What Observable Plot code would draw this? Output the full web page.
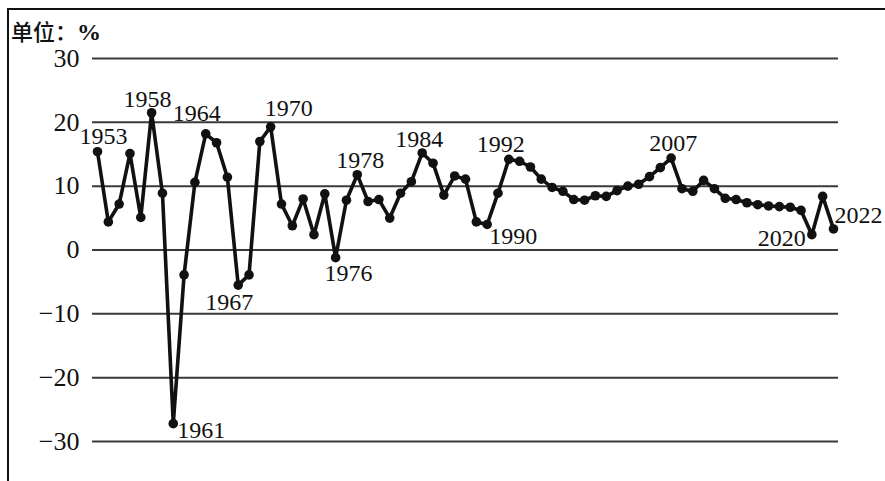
<!DOCTYPE html>
<html>
<head>
<meta charset="utf-8">
<script src="https://cdn.jsdelivr.net/npm/d3@7"></script>
<script src="https://cdn.jsdelivr.net/npm/@observablehq/plot@0.6"></script>
<style>
  html, body { margin: 0; padding: 0; background: #fff; }
  #wrap { position: relative; width: 885px; height: 481px; overflow: hidden; background: #fff; }
  #frame { position: absolute; left: 7px; top: 8px; width: 880px; height: 480px;
           border-left: 2px solid #111; border-top: 2px solid #111; box-sizing: border-box; }
  #unit { position: absolute; left: 11px; top: 20px; font-family: "Noto Sans CJK SC", sans-serif;
          font-size: 22px; line-height: 20px; font-weight: 500; color: #111; white-space: nowrap; }
  #unit .pct { font-family: "Liberation Serif", serif; font-weight: 700; font-size: 24px; }
  #chart { position: absolute; left: 0; top: 0; }
  #chart svg text { font-family: "Liberation Serif", "DejaVu Serif", serif !important; }
</style>
</head>
<body>
<div id="wrap">
  <div id="frame"></div>
  <div id="unit">单位：<span class="pct">%</span></div>
  <div id="chart"></div>
</div>
<script>
// Years plotted (the reference skips 1960)
const years = [1953,1954,1955,1956,1957,1958,1959,1961,1962,1963,1964,1965,1966,1967,1968,1969,
  1970,1971,1972,1973,1974,1975,1976,1977,1978,1979,1980,1981,1982,1983,1984,1985,1986,1987,1988,1989,
  1990,1991,1992,1993,1994,1995,1996,1997,1998,1999,2000,2001,2002,2003,2004,2005,2006,2007,2008,2009,
  2010,2011,2012,2013,2014,2015,2016,2017,2018,2019,2020,2021,2022];
// Growth rate, %
const growth = [15.4,4.4,7.2,15.1,5.1,21.5,8.9,-27.2,-3.9,10.6,18.2,16.8,11.4,-5.5,-3.9,17.0,
  19.3,7.2,3.8,8.0,2.4,8.8,-1.2,7.8,11.8,7.6,7.9,5.0,8.9,10.7,15.2,13.6,8.6,11.6,11.1,4.4,
  4.0,8.9,14.2,13.9,13.0,11.1,9.8,9.2,7.9,7.8,8.5,8.4,9.3,10.0,10.3,11.5,12.9,14.4,9.6,9.2,
  10.9,9.6,8.1,7.9,7.4,7.1,6.9,6.8,6.7,6.2,2.4,8.4,3.3];
const yTicks = [30,20,10,0,-10,-20,-30];
const labelYears = [1953,1958,1961,1964,1967,1970,1976,1978,1984,1990,1992,2007,2020,2022];

const data = years.map((year, i) => ({year, value: growth[i]}));
const labelData = data.filter(d => labelYears.includes(d.year));

// label placement relative to each point (layout only)
const offsets = {
  1953: [6, -15], 1958: [-4, -13], 1961: [28, 7], 1964: [-9, -21], 1967: [-9, 17],
  1970: [18, -18], 1976: [13, 16], 1978: [3, -14], 1984: [-3, -14], 1990: [26, 12],
  1992: [-8, -15], 2007: [2, -15], 2020: [-30, 4], 2022: [25, -14]
};

const serif = "'Liberation Serif', 'DejaVu Serif', serif";

const plot = Plot.plot({
  width: 885,
  height: 481,
  marginLeft: 92,
  marginRight: 47,
  marginTop: 58,
  marginBottom: 40,
  style: {background: "transparent", fontFamily: serif, fontSize: "25px", color: "#111"},
  x: {type: "point", domain: years, padding: 0, insetLeft: 5, insetRight: 5, axis: null},
  y: {domain: [-30, 30], ticks: yTicks, label: null},
  marks: [
    Plot.ruleY(yTicks, {stroke: "#3a3a3a", strokeWidth: 2}),
    Plot.axisY({ticks: yTicks, tickSize: 0, tickPadding: 13, label: null,
      fontSize: 26, tickFormat: d => (d < 0 ? "\u2212" + Math.abs(d) : String(d))}),
    Plot.line(data, {x: "year", y: "value", stroke: "#111", strokeWidth: 3.6, strokeLinejoin: "round"}),
    Plot.dot(data, {x: "year", y: "value", r: 4.8, fill: "#111", stroke: "none"}),
    ...labelData.map(d => Plot.text([d], {
      x: "year", y: "value", text: dd => String(dd.year),
      dx: offsets[d.year][0], dy: offsets[d.year][1],
      fontSize: 24, fill: "#111"
    }))
  ]
});
document.getElementById("chart").appendChild(plot);
</script>
</body>
</html>
